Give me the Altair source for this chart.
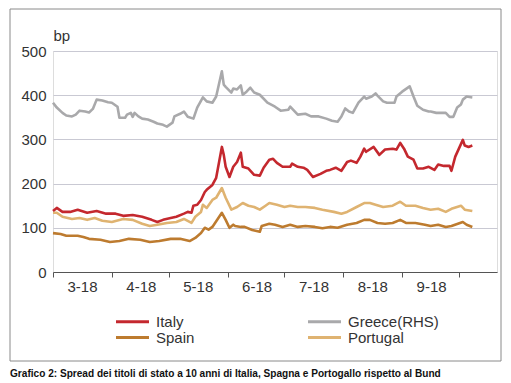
import altair as alt
import pandas as pd

caption = "Grafico 2: Spread dei titoli di stato a 10 anni di Italia, Spagna e Portogallo rispetto al Bund"

greece_dates = ["03-01","03-03","03-06","03-08","03-11","03-13","03-15","03-18","03-20","03-22","03-24","03-27","03-30",
                "04-01","04-04","04-05","04-08","04-09","04-11","04-12","04-13","04-15","04-17","04-20","04-23","04-25","04-28","04-30",
                "05-03","05-04","05-07","05-09","05-11","05-14","05-16","05-19","05-21","05-24","05-26","05-29","05-30","05-31",
                "06-03","06-04","06-06","06-08","06-09","06-11","06-13","06-15","06-18","06-22","06-26","06-29",
                "07-03","07-04","07-08","07-12","07-15","07-19","07-23","07-26","07-29","07-31",
                "08-02","08-04","08-06","08-09","08-12","08-13","08-16","08-18","08-19","08-22","08-24","08-28","08-29",
                "09-01","09-05","09-07","09-09","09-12","09-15","09-16","09-19","09-21","09-24","09-26","09-28","09-30",
                "10-02","10-03","10-05","10-08"]
greece_vals = [383,372,360,354,352,356,365,363,361,369,390,388,384,
               383,374,349,349,356,360,351,360,352,347,345,340,336,333,329,
               338,352,358,363,351,347,372,395,386,383,397,454,424,419,
               406,415,413,422,401,408,417,406,401,383,374,365,
               367,374,356,358,352,352,347,342,340,352,
               370,363,360,383,397,392,397,404,399,386,383,383,397,
               408,420,397,376,367,363,363,360,360,360,351,351,372,
               379,390,397,395]

italy_dates = ["03-01","03-03","03-06","03-10","03-14","03-19","03-24","03-29",
               "04-03","04-07","04-12","04-17","04-22","04-25","04-28",
               "05-02","05-05","05-09","05-11","05-13","05-14","05-16","05-18","05-20","05-21","05-24","05-26","05-29","05-30","05-31",
               "06-02","06-04","06-06","06-08","06-09","06-12","06-15","06-18","06-20","06-23","06-25","06-27","06-30",
               "07-04","07-05","07-08","07-11","07-13","07-16","07-20","07-23","07-25","07-28","07-31",
               "08-03","08-05","08-08","08-10","08-12","08-13","08-17","08-20","08-23","08-27","08-29","08-31",
               "09-02","09-04","09-07","09-09","09-12","09-15","09-18","09-20","09-23","09-26","09-27","09-29",
               "10-03","10-04","10-06","10-08"]
italy_vals = [138,145,136,136,141,134,138,132,
              132,127,129,125,118,113,118,
              122,125,132,136,134,150,152,163,181,186,197,213,283,265,238,
              215,238,249,270,238,234,220,218,236,254,256,247,238,
              238,245,238,236,231,215,222,229,231,236,229,
              249,252,247,261,279,272,283,265,277,279,277,292,
              279,261,254,234,234,238,231,243,240,240,229,261,
              299,286,283,286]

portugal_dates = ["03-01","03-03","03-06","03-11","03-15","03-19","03-23","03-27",
                  "04-01","04-07","04-12","04-17","04-21","04-25","04-30",
                  "05-05","05-09","05-13","05-15","05-18","05-19","05-21","05-24","05-26","05-29","05-31",
                  "06-03","06-06","06-09","06-12","06-15","06-18","06-21","06-23","06-27",
                  "07-01","07-04","07-08","07-12","07-17","07-21","07-27","07-31",
                  "08-03","08-08","08-12","08-15","08-18","08-22","08-27","08-31",
                  "09-03","09-08","09-12","09-16","09-20","09-24","09-27",
                  "10-02","10-04","10-08"]
portugal_vals = [134,134,125,120,122,118,122,116,
                 113,120,118,109,104,107,111,
                 113,120,111,125,136,152,145,163,168,190,168,
                 141,147,156,150,147,141,150,156,152,
                 147,150,147,147,145,141,136,132,
                 136,147,156,156,152,147,150,159,
                 150,150,145,141,143,136,143,
                 150,141,138]

spain_dates = ["03-01","03-05","03-08","03-14","03-17","03-20","03-26","03-31",
               "04-05","04-10","04-16","04-21","04-26",
               "05-02","05-07","05-12","05-15","05-18","05-20","05-22","05-24","05-29","05-31",
               "06-02","06-04","06-05","06-08","06-10","06-14","06-18","06-19","06-23","06-26","06-30",
               "07-04","07-08","07-12","07-17","07-21","07-25","07-29",
               "08-03","08-08","08-12","08-15","08-19","08-23","08-27","08-31",
               "09-03","09-08","09-13","09-16","09-20","09-24","09-27",
               "10-03","10-05","10-08"]
spain_vals = [88,86,82,82,79,75,73,68,
              70,75,73,68,70,
              75,75,70,77,88,100,96,102,134,118,
              100,107,104,102,102,95,91,104,109,107,102,
              107,102,104,102,99,102,100,
              107,111,118,118,111,109,111,118,
              111,111,107,104,107,102,104,
              113,107,102]

# legend fills column by column: Italy/Spain in the first column, Greece/Portugal in the second
legend_order = ["Italy", "Spain", "Greece(RHS)", "Portugal"]
colors = ["#c4282e", "#bd7b2f", "#a9a9ab", "#dfb371"]
month_ticks = [3, 4, 5, 6, 7, 8, 9, 10]
y_ticks = [0, 100, 200, 300, 400, 500]

rows = []
for name, ds, vs in [("Greece(RHS)", greece_dates, greece_vals),
                     ("Portugal", portugal_dates, portugal_vals),
                     ("Spain", spain_dates, spain_vals),
                     ("Italy", italy_dates, italy_vals)]:
    for d, v in zip(ds, vs):
        rows.append({"date": "2018-" + d, "series": name, "value": v})
df = pd.DataFrame(rows)

FONT = "Liberation Sans"

lines = alt.Chart(df).mark_line(strokeWidth=2.6, strokeJoin="round").encode(
    x=alt.X("date:T",
            scale=alt.Scale(type="utc",
                            domain=[alt.DateTime(year=2018, month=3, date=1, utc=True),
                                    alt.DateTime(year=2018, month=10, date=21, utc=True)]),
            axis=alt.Axis(values=[alt.DateTime(year=2018, month=m, date=1, utc=True) for m in month_ticks],
                          format="%-m-%y",
                          labelExpr="utcmonth(datum.value) == 9 ? '' : datum.label",
                          labelOffset=29, labelFlush=False, labelOverlap=False,
                          grid=False, tickSize=5, tickColor="#555555", domainColor="#555555",
                          labelFontSize=15, labelColor="#333333", labelFont=FONT, labelPadding=2,
                          title=None)),
    y=alt.Y("value:Q",
            scale=alt.Scale(domain=[0, 500]),
            axis=alt.Axis(values=y_ticks, domain=False, ticks=False, grid=True,
                          gridColor="#c9c9d3", gridWidth=1,
                          labelFontSize=15, labelColor="#333333", labelFont=FONT, labelPadding=7,
                          title="bp", titleAngle=0, titleX=0, titleY=-11, titleAlign="left",
                          titleBaseline="alphabetic", titleFontSize=15, titleFontWeight="normal",
                          titleColor="#333333", titleFont=FONT)),
    color=alt.Color("series:N",
                    scale=alt.Scale(domain=legend_order, range=colors),
                    legend=alt.Legend(orient="none", legendX=72, legendY=263, columns=2, title=None,
                                      symbolType="M-3,0H3", symbolSize=121, symbolStrokeWidth=3,
                                      labelFontSize=15, labelFont=FONT, labelColor="#333333",
                                      columnPadding=107, rowPadding=0, labelOffset=16)),
)

frame = alt.Chart(alt.Data(values=[{}])).mark_rect(filled=False, stroke="#8a8a8a", strokeWidth=1).encode(
    x=alt.value(-43), x2=alt.value(448), y=alt.value(-42), y2=alt.value(310)
)

cap = alt.Chart(alt.Data(values=[{}])).mark_text(
    align="left", baseline="alphabetic", font="Liberation Sans",
    fontSize=10.1, fontWeight="bold", color="#111111"
).encode(x=alt.value(-43), y=alt.value(326), text=alt.value(caption))

chart = alt.layer(frame, lines, cap).properties(
    width=444, height=221,
    padding={"left": 45, "top": 43, "right": 6, "bottom": 108},
    autosize=alt.AutoSizeParams(type="none"),
).configure_view(stroke=None).configure(background="white")

chart.save("out.html", embed_options={"renderer": "svg", "actions": False})
